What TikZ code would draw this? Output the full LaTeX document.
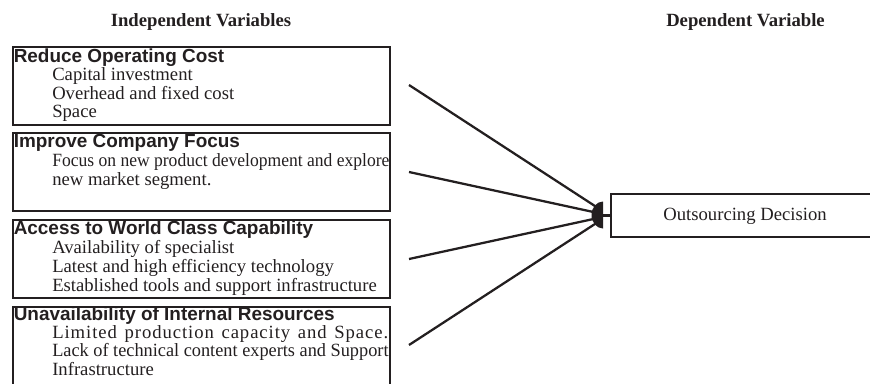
\documentclass[tikz,border=0pt]{standalone}
\usepackage{fontspec}
\setmainfont{Liberation Serif}
\newfontfamily\headfont{Liberation Sans}
\usepackage{graphicx}
\usetikzlibrary{fit}
\definecolor{ink}{RGB}{35,31,32}
\begin{document}
\begin{tikzpicture}[x=0.75pt,y=-0.75pt,
  box/.style={draw=ink, line width=2.1pt, inner sep=0pt},
  head/.style={anchor=base west, inner sep=0pt, text=ink, font=\headfont\bfseries\fontsize{14.2}{14}\selectfont},
  item/.style={anchor=base west, inner sep=0pt, text=ink, font=\fontsize{14}{14}\selectfont},
  title/.style={anchor=base, inner sep=0pt, text=ink, font=\bfseries\fontsize{14}{14}\selectfont},
  link/.style={draw=ink, line width=1.7pt}]
\useasboundingbox (0,0) rectangle (870,383);

% titles
\node[title] (tiv) at (201,26) {Independent Variables};
\node[title] (tdv) at (745.5,26) {Dependent Variable};

% left boxes
\node[box, fit={(13,47)(390,125)}] (b1) {};
\node[box, fit={(13,133)(390,211)}] (b2) {};
\node[box, fit={(13,220)(390,298)}] (b3) {};
\node[box, fit={(13,307)(390,385)}] (b4) {};

% box 1
\node[head] (h1) at (13.5,62) {Reduce Operating Cost};
\node[item] (i11) at (52,80.5) {Capital investment};
\node[item] (i12) at (52,99) {Overhead and fixed cost};
\node[item] (i13) at (52,117.5) {Space};

% box 2
\node[head] (h2) at (13.5,147.7) {Improve Company Focus};
\node[item] (i21) at (52,166.5) {\scalebox{0.94}[1]{Focus on new product development and explore}};
\node[item] (i22) at (52,185) {new market segment.};

% box 3
\node[head] (h3) at (13.5,234.3) {Access to World Class Capability};
\node[item] (i31) at (52,253.5) {Availability of specialist};
\node[item] (i32) at (52,272.3) {Latest and high efficiency technology};
\node[item] (i33) at (52,291) {Established tools and support infrastructure};

% box 4
\node[head] (h4) at (13.5,320.7) {Unavailability of Internal Resources};
\node[item] (i41) at (52,338.5) {\makebox[252pt][s]{\addfontfeature{LetterSpace=5}Limited production capacity and Space.}};
\node[item] (i42) at (52,356.7) {\scalebox{0.98}[1]{Lack of technical content experts and Support}};
\node[item] (i43) at (52,375) {Infrastructure};

% dependent variable box
\node[box, fit={(611,194)(900,237)}] (dv) {};
\node[anchor=base, inner sep=0pt, text=ink, font=\fontsize{14}{14}\selectfont] (dvt) at (745,220) {Outsourcing Decision};

% connectors
\coordinate (s1) at (409,85);
\coordinate (s2) at (409,172);
\coordinate (s3) at (409,259);
\coordinate (s4) at (409,345);
\coordinate (e1) at (598,208);
\coordinate (e2) at (598,213);
\coordinate (e3) at (598,218);
\coordinate (e4) at (598,222);
\coordinate (J) at (600,215.5);
\draw[link] (s1) -- (e1);
\draw[link] (s2) -- (e2);
\draw[link] (s3) -- (e3);
\draw[link] (s4) -- (e4);
\fill[ink] (603,228.5) arc[start angle=90, end angle=270, x radius=11.5, y radius=13.5] -- cycle;
\draw[link] (J) -- (dv.west);
\end{tikzpicture}
\end{document}
